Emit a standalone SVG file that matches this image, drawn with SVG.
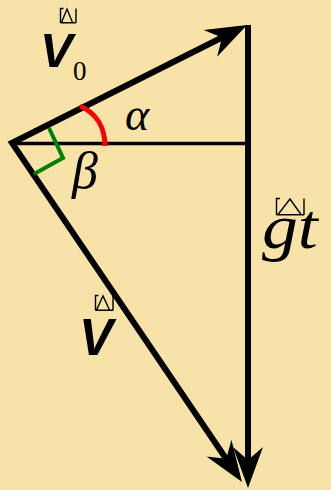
<svg xmlns="http://www.w3.org/2000/svg" width="331" height="490" viewBox="0 0 331 490">
<defs>
<style>
.vec{fill:none;stroke:#000;stroke-width:6;stroke-linejoin:miter;stroke-miterlimit:10}
.thin{fill:none;stroke:#000;stroke-width:3.5}
.head{fill:#000}
.sym{fill:none;stroke:#000;stroke-width:1.4}
.bv{font-family:"Liberation Sans",Arial,sans-serif;font-weight:bold;font-style:italic}
.it{font-family:"Liberation Serif","Times New Roman",serif;font-style:italic}
.rm{font-family:"Liberation Serif","Times New Roman",serif}
</style>
<path id="ah" d="M0,0 L-41,-15 L-28,0 L-41,15 Z"/>
</defs>
<rect width="331" height="490" fill="#F7E3A7"/>
<g id="connectors">
<path class="thin" d="M12,143.5 H248"/>
<path class="vec" d="M227,35 L12,143 L231,466"/>
<path class="vec" d="M248,25 V468"/>
<use href="#ah" class="head" transform="translate(247,25) rotate(-26.7)"/>
<use href="#ah" class="head" transform="translate(248,488) rotate(90)"/>
<use href="#ah" class="head" transform="translate(242,482) rotate(55.9)"/>
</g>
<g id="angle-alpha">
<path d="M80,106 C96,113 105,127 105,146" fill="none" stroke="#FF0000" stroke-width="5"/>
<text class="it" x="125" y="130" font-size="46">α</text>
</g>
<g id="angle-beta">
<path d="M49,128 L63,158 L34,174" fill="none" stroke="#008000" stroke-width="4"/>
<text class="it" x="72" y="188" font-size="52">β</text>
</g>
<g id="v0">
<path class="sym" d="M60.5,23 V8.5 H63.5 M61.5,22.5 L67,9 L72.5,22.5 M76,8.5 V23 M60.5,22.7 H76"/>
<text class="bv" x="40" y="67" font-size="49">V</text>
<text class="rm" x="73" y="80" font-size="27">0</text>
</g>
<g id="v">
<path class="sym" d="M95.5,310.5 V295.5 H98.5 M96.5,310 L103,296 L109.5,310 M113,295.5 V310.5 M95.5,310.2 H113"/>
<text class="bv" x="79" y="355" font-size="51">V</text>
</g>
<g id="gt">
<path class="sym" d="M276.5,215 V198.5 H280 M278,214.5 L290,199 L301,214.5 M304,198.5 V215 M276.5,214.7 H304"/>
<text class="it" transform="translate(262,248) scale(1.12,1)" font-size="64">gt</text>
</g>
</svg>
